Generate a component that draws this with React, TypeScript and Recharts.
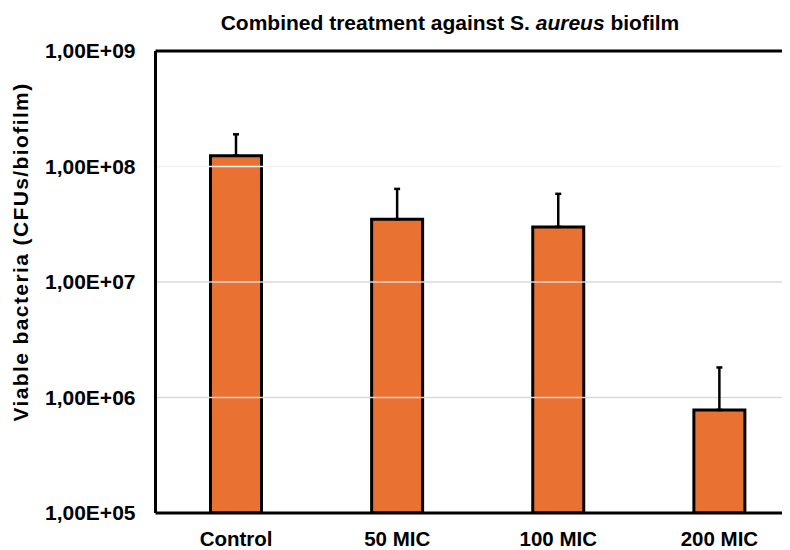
import React from 'react';
import { BarChart, Bar, XAxis, YAxis, ErrorBar, ReferenceLine } from 'recharts';

const categories = ['Control', '50 MIC', '100 MIC', '200 MIC'];
const means = [1.24e8, 3.5e7, 3.0e7, 7.8e5];
const upperErrors = [0.66e8, 2.9e7, 2.8e7, 1.04e6];
const yTicks = [1e5, 1e6, 1e7, 1e8, 1e9];
const gridLines = [
  { y: 1e6, color: '#d9d9d9' },
  { y: 1e7, color: '#d9d9d9' },
  { y: 1e8, color: '#f2f2f2' },
];

const data = categories.map((c, i) => ({
  name: c,
  value: means[i],
  err: [0, upperErrors[i]],
}));

const fmt = (v: number) => {
  const exp = Math.round(Math.log10(v));
  return `1,00E+${exp < 10 ? '0' + exp : exp}`;
};

const FONT = '"Liberation Sans", Arial, sans-serif';

const YTitle = () => (
  <text
    x={12.5}
    y={244}
    transform="rotate(-90, 12.5, 244)"
    textAnchor="middle"
    dominantBaseline="central"
    style={{ fill: '#000', fontSize: 21, fontWeight: 'bold', fontFamily: FONT, letterSpacing: 1.4 }}
  >
    Viable bacteria (CFUs/biofilm)
  </text>
);

export default function App() {
  return (
    <div style={{ position: 'relative', width: 782, height: 542, overflow: 'hidden' }}>
      <div
        style={{
          position: 'absolute',
          left: 0,
          width: 884,
          top: 3,
          textAlign: 'center',
          fontFamily: FONT,
          fontWeight: 'bold',
          fontSize: 21,
          color: '#000',
        }}
      >
        Combined treatment against S. <i>aureus</i> biofilm
      </div>
      <BarChart
        width={800}
        height={542}
        data={data}
        margin={{ top: 43, right: 8, bottom: 0, left: 0 }}
        barCategoryGap={0}
      >
        {gridLines.map((g) => (
          <ReferenceLine key={g.y} y={g.y} stroke={g.color} strokeWidth={1.3} />
        ))}
        <XAxis
          dataKey="name"
          height={37}
          axisLine={{ stroke: '#000', strokeWidth: 3 }}
          tickLine={false}
          tickSize={0}
          tickMargin={18}
          tick={{ fill: '#000', fontSize: 20.5, fontWeight: 'bold', fontFamily: FONT }}
        />
        <YAxis
          scale="log"
          domain={[1e5, 1e9]}
          ticks={yTicks}
          allowDataOverflow
          width={147.5}
          tickFormatter={fmt}
          axisLine={{ stroke: '#000', strokeWidth: 3 }}
          tickLine={false}
          tickSize={0}
          tickMargin={20}
          tick={{ fill: '#000', fontSize: 21, fontWeight: 'bold', fontFamily: FONT }}
          label={{ content: () => <YTitle /> }}
        />
        <ReferenceLine y={1e9} stroke="#000" strokeWidth={3} />
        <Bar dataKey="value" fill="#E97132" stroke="#000" strokeWidth={3} barSize={51} isAnimationActive={false}>
          <ErrorBar dataKey="err" stroke="#000" strokeWidth={2.5} width={3} direction="y" />
        </Bar>
      </BarChart>
    </div>
  );
}
